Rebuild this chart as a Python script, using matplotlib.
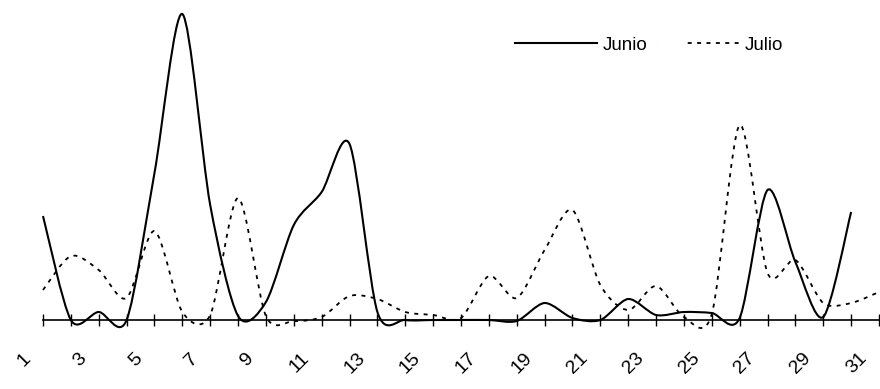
import matplotlib as mpl
mpl.use("Agg")
import matplotlib.pyplot as plt
import matplotlib.transforms as mtransforms
from matplotlib.path import Path
from matplotlib.patches import PathPatch
from matplotlib.lines import Line2D

plt.rcParams['font.family'] = ['Liberation Sans', 'DejaVu Sans']

# ---- data (arbitrary units, no y scale shown) ----
days_junio = list(range(1, 31))
junio = [104, 0, 8, 0, 147, 306, 115, 4, 18, 95,
         128, 176, 8, 0, 0, 0, 0, -1, 17, 2,
         0, 21, 5, 8, 7, 2, 130, 58, 3, 108]

days_julio = list(range(1, 32))
julio = [30, 64, 50, 22, 89, 8, 5, 122, 4, -1,
         3, 24, 21, 8, 5, 2, 44, 22, 70, 110,
         35, 10, 34, 3, 6, 195, 47, 60, 17, 17, 28]

tick_days = list(range(1, 32, 2))
tick_labels = [str(d) for d in tick_days]

TENSION = 7.0


def smooth_path(xs, ys):
    # excel-style smoothed line: cubic bezier segments through each data point
    n = len(xs)
    verts = [(xs[0], ys[0])]
    codes = [Path.MOVETO]
    for i in range(n - 1):
        p_prev = (xs[max(i - 1, 0)], ys[max(i - 1, 0)])
        p0 = (xs[i], ys[i])
        p1 = (xs[i + 1], ys[i + 1])
        p_next = (xs[min(i + 2, n - 1)], ys[min(i + 2, n - 1)])
        c1 = (p0[0] + (p1[0] - p_prev[0]) / TENSION, p0[1] + (p1[1] - p_prev[1]) / TENSION)
        c2 = (p1[0] - (p_next[0] - p0[0]) / TENSION, p1[1] - (p_next[1] - p0[1]) / TENSION)
        verts += [c1, c2, p1]
        codes += [Path.CURVE4] * 3
    return Path(verts, codes)


fig = plt.figure(figsize=(8.8, 3.89), dpi=100)
ax = fig.add_axes([43 / 880, 49 / 389, 836 / 880, 330 / 389])

junio_style = dict(color='black', linewidth=1.5, linestyle='solid')
julio_style = dict(color='black', linewidth=1.3, linestyle=(0, (2.2, 3.0)))

ax.add_patch(PathPatch(smooth_path(days_junio, junio), fill=False, clip_on=False, **junio_style))
ax.add_patch(PathPatch(smooth_path(days_julio, julio), fill=False, clip_on=False, **julio_style))

ax.set_xlim(1, 31)
ax.set_ylim(-20, 310)

for side in ['left', 'right', 'top']:
    ax.spines[side].set_visible(False)
ax.spines['bottom'].set_position(('data', 0))
ax.spines['bottom'].set_linewidth(1.2)
ax.set_yticks([])

ax.set_xticks(tick_days)
ax.set_xticks(list(range(2, 31, 2)), minor=True)
ax.set_xticklabels(tick_labels, rotation=45, ha='right', va='top',
                   rotation_mode='anchor', fontsize=14)
ax.tick_params(axis='x', which='both', direction='inout', length=9, width=1, pad=17)

# the labels sit a bit to the left of their ticks in the original
shift = mtransforms.ScaledTranslation(-0.21, 0, fig.dpi_scale_trans)
for lab in ax.get_xticklabels():
    lab.set_transform(lab.get_transform() + shift)

# legend: the dashed key starts part way along its slot, as in the original
julio_key = dict(color='black', linewidth=1.3,
                 linestyle=(0, [0.01, 17.0] + [2.2, 3.0] * 10))
handles = [Line2D([], [], **junio_style), Line2D([], [], **julio_key)]
fig.legend(handles, ['Junio', 'Julio'], ncol=2, frameon=False, fontsize=13.5,
           loc='center', bbox_to_anchor=(649 / 880, 1 - 45 / 389),
           handlelength=4.4, handletextpad=0.3, columnspacing=0.5)

plt.savefig("out.png", dpi=100)
